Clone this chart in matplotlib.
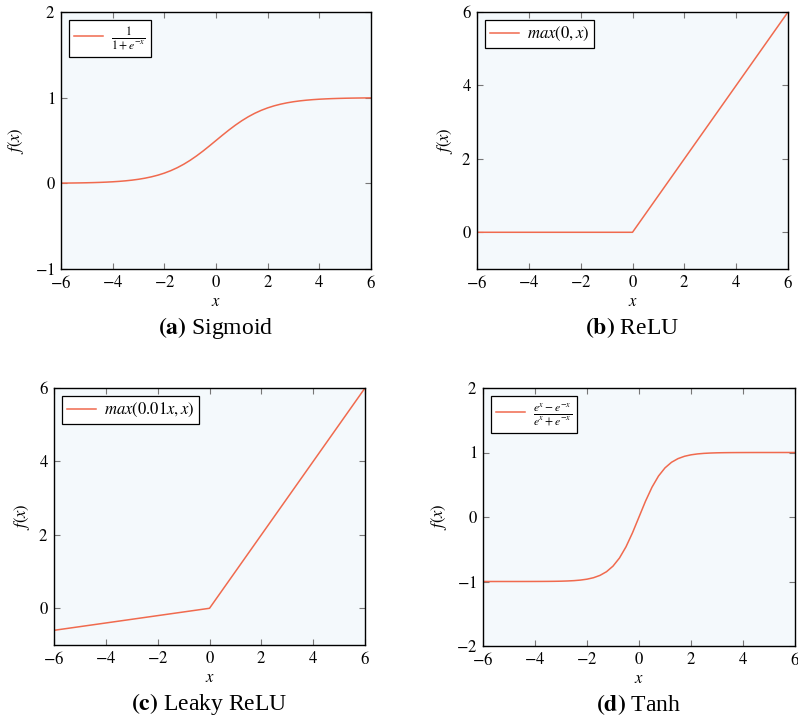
import matplotlib
matplotlib.use("Agg")
import matplotlib.pyplot as plt

plt.rcParams['font.family'] = ['Liberation Serif', 'DejaVu Serif']
plt.rcParams['mathtext.fontset'] = 'stix'

# Piecewise-linear activations: 25 samples over [-6, 6]
x_vals = [-6.0, -5.5, -5.0, -4.5, -4.0, -3.5, -3.0, -2.5, -2.0, -1.5, -1.0, -0.5, 0.0,
          0.5, 1.0, 1.5, 2.0, 2.5, 3.0, 3.5, 4.0, 4.5, 5.0, 5.5, 6.0]
relu_vals = [0.0, 0.0, 0.0, 0.0, 0.0, 0.0, 0.0, 0.0, 0.0, 0.0, 0.0, 0.0, 0.0,
             0.5, 1.0, 1.5, 2.0, 2.5, 3.0, 3.5, 4.0, 4.5, 5.0, 5.5, 6.0]
leaky_vals = [-0.60, -0.55, -0.50, -0.45, -0.40, -0.35, -0.30, -0.25, -0.20, -0.15, -0.10, -0.05, 0.0,
              0.5, 1.0, 1.5, 2.0, 2.5, 3.0, 3.5, 4.0, 4.5, 5.0, 5.5, 6.0]

# Smooth activations: finer samples over [-6, 6]
x_fine = [-6.0, -5.75, -5.5, -5.25, -5.0, -4.75, -4.5, -4.25, -4.0, -3.75, -3.5, -3.25,
          -3.0, -2.75, -2.5, -2.25, -2.0, -1.75, -1.5, -1.25, -1.0, -0.75, -0.5, -0.25, 0.0,
          0.25, 0.5, 0.75, 1.0, 1.25, 1.5, 1.75, 2.0, 2.25, 2.5, 2.75, 3.0,
          3.25, 3.5, 3.75, 4.0, 4.25, 4.5, 4.75, 5.0, 5.25, 5.5, 5.75, 6.0]
sigmoid_vals = [0.0025, 0.0032, 0.0041, 0.0052, 0.0067, 0.0086, 0.0110, 0.0141, 0.0180, 0.0230, 0.0293, 0.0373,
                0.0474, 0.0601, 0.0759, 0.0953, 0.1192, 0.1480, 0.1824, 0.2227, 0.2689, 0.3208, 0.3775, 0.4378, 0.5000,
                0.5622, 0.6225, 0.6792, 0.7311, 0.7773, 0.8176, 0.8520, 0.8808, 0.9047, 0.9241, 0.9399, 0.9526,
                0.9627, 0.9707, 0.9770, 0.9820, 0.9859, 0.9890, 0.9914, 0.9933, 0.9948, 0.9959, 0.9968, 0.9975]
tanh_vals = [-1.0000, -1.0000, -1.0000, -0.9999, -0.9999, -0.9999, -0.9998, -0.9996, -0.9993, -0.9989, -0.9982, -0.9970,
             -0.9951, -0.9918, -0.9866, -0.9780, -0.9640, -0.9414, -0.9051, -0.8483, -0.7616, -0.6351, -0.4621, -0.2449, 0.0,
             0.2449, 0.4621, 0.6351, 0.7616, 0.8483, 0.9051, 0.9414, 0.9640, 0.9780, 0.9866, 0.9918, 0.9951,
             0.9970, 0.9982, 0.9989, 0.9993, 0.9996, 0.9998, 0.9999, 0.9999, 0.9999, 1.0000, 1.0000, 1.0000]

x_ticks = [-6, -4, -2, 0, 2, 4, 6]
panels = [
    dict(x=x_fine, y=sigmoid_vals, label=r'$\frac{1}{1+e^{-x}}$', lfs=12, ylim=(-1, 2), yticks=[-1, 0, 1, 2],
         caption=r'$\mathbf{(a)}$ Sigmoid', box=(61, 12, 371, 269), lp=7),
    dict(x=x_vals, y=relu_vals, label=r'$max(0,x)$', lfs=12, ylim=(-1, 6), yticks=[0, 2, 4, 6],
         caption=r'$\mathbf{(b)}$ ReLU', box=(477, 12, 788, 269), lp=5),
    dict(x=x_vals, y=leaky_vals, label=r'$max(0.01x,x)$', lfs=12, ylim=(-1, 6), yticks=[0, 2, 4, 6],
         caption=r'$\mathbf{(c)}$ Leaky ReLU', box=(54, 388, 365, 645), lp=5),
    dict(x=x_fine, y=tanh_vals, label=r'$\frac{e^{x}-e^{-x}}{e^{x}+e^{-x}}$', lfs=12, ylim=(-2, 2),
         yticks=[-2, -1, 0, 1, 2], caption=r'$\mathbf{(d)}$ Tanh', box=(483, 388, 795, 646), lp=5),
]

W, H = 798, 726
fig = plt.figure(figsize=(W / 100, H / 100), dpi=100)
line_color = '#F06A4E'
bg = '#F4F9FC'


def fmt(t):
    return f'${t}$' if t >= 0 else f'$-{abs(t)}$'


for p in panels:
    x0, y0, x1, y1 = p['box']
    ax = fig.add_axes([x0 / W, 1 - y1 / H, (x1 - x0) / W, (y1 - y0) / H])
    ax.set_facecolor(bg)
    ax.plot(p['x'], p['y'], color=line_color, lw=1.1, label=p['label'])
    ax.set_xlim(-6, 6)
    ax.set_ylim(*p['ylim'])
    ax.set_xticks(x_ticks)
    ax.set_yticks(p['yticks'])
    ax.set_xticklabels([fmt(t) for t in x_ticks])
    ax.set_yticklabels([fmt(t) for t in p['yticks']])
    ax.tick_params(direction='in', top=True, right=True, length=4.5, width=0.8,
                   color='#777777', labelsize=12, pad=4)
    for s in ax.spines.values():
        s.set_color('black')
        s.set_linewidth(1.0)
    ax.set_xlabel(r'$x$', fontsize=12, labelpad=2)
    ax.set_ylabel(r'$f(x)$', fontsize=12, labelpad=p['lp'])
    leg = ax.legend(loc='upper left', fontsize=p['lfs'], frameon=True, fancybox=False,
                    edgecolor='black', handlelength=1.7, handletextpad=0.5,
                    borderpad=0.3, borderaxespad=0.5, framealpha=1)
    leg.get_frame().set_linewidth(0.9)
    cx = (x0 + x1) / 2
    fig.text(cx / W, 1 - (y1 + 59) / H, p['caption'], ha='center', va='center', fontsize=17)

fig.savefig('out.png', dpi=100)
